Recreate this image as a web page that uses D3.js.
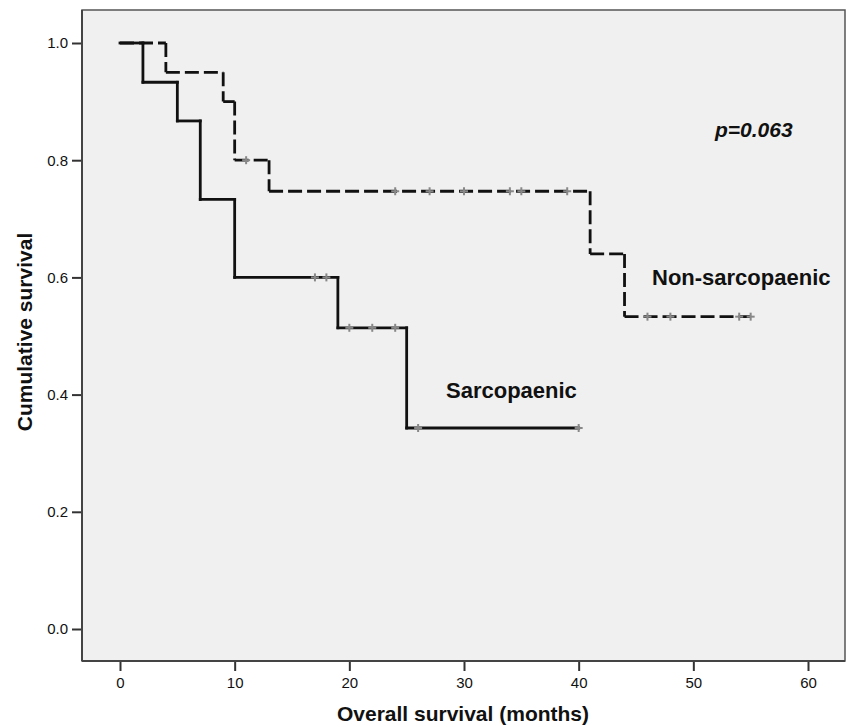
<html>
<head>
<script src="https://d3js.org/d3.v7.min.js"></script>
<style>
  body { margin: 0; background: #fff; }
  text { font-family: "Liberation Sans", Arial, sans-serif; }
</style>
</head>
<body>
<div id="chartContainer"></div>
<script type="text/javascript">
  // step points of each Kaplan-Meier curve (time in months, cumulative survival)
  var sarcTimes = [0, 2, 5, 7, 10, 19, 25];
  var sarcSurv = [1.0, 0.933, 0.867, 0.733, 0.600, 0.514, 0.343];
  var sarcEnd = 40;
  var sarcCensored = [17, 18, 20, 22, 24, 26, 40];

  var nonTimes = [0, 4, 9, 10, 13, 41, 44];
  var nonSurv = [1.0, 0.95, 0.90, 0.80, 0.747, 0.640, 0.533];
  var nonEnd = 55;
  var nonCensored = [11, 24, 27, 30, 34, 35, 39, 46, 48, 54, 55];

  var xTicks = [0, 10, 20, 30, 40, 50, 60];
  var yTicks = [0.0, 0.2, 0.4, 0.6, 0.8, 1.0];

  var W = 847, H = 727;
  var svg = d3.select("#chartContainer").append("svg")
    .attr("width", W).attr("height", H);

  var frame = { left: 82, top: 10, right: 845, bottom: 661 };

  var x = d3.scaleLinear().domain([0, 60]).range([120, 808]);
  var y = d3.scaleLinear().domain([0, 1]).range([629, 43]);

  // plot background + border
  svg.append("rect")
    .attr("x", frame.left).attr("y", frame.top)
    .attr("width", frame.right - frame.left)
    .attr("height", frame.bottom - frame.top)
    .attr("fill", "#f0f0f0")
    .attr("stroke", "#555").attr("stroke-width", 1.5);

  // axes
  var yAxis = d3.axisLeft(y).tickValues(yTicks).tickFormat(d3.format(".1f"))
    .tickSize(10).tickPadding(4);
  var xAxis = d3.axisBottom(x).tickValues(xTicks).tickFormat(d3.format("d"))
    .tickSize(10).tickPadding(6);

  var gy = svg.append("g").attr("transform", "translate(" + frame.left + ",0)").call(yAxis);
  var gx = svg.append("g").attr("transform", "translate(0," + frame.bottom + ")").call(xAxis);
  [gy, gx].forEach(function (g) {
    g.select(".domain").remove();
    g.selectAll(".tick line").attr("stroke", "#333").attr("stroke-width", 2);
    g.selectAll(".tick text").attr("fill", "#111")
      .style("font-size", "15px");
  });
  svg.append("line")
    .attr("x1", frame.left).attr("x2", frame.left)
    .attr("y1", frame.top).attr("y2", frame.bottom)
    .attr("stroke", "#444").attr("stroke-width", 2);
  svg.append("line")
    .attr("x1", frame.left).attr("x2", frame.right)
    .attr("y1", frame.bottom).attr("y2", frame.bottom)
    .attr("stroke", "#444").attr("stroke-width", 2);

  // axis titles
  svg.append("text")
    .attr("x", 463).attr("y", 721)
    .attr("text-anchor", "middle")
    .style("font-size", "21px").style("font-weight", "bold")
    .attr("fill", "#111")
    .text("Overall survival (months)");
  svg.append("text")
    .attr("transform", "translate(32,332) rotate(-90)")
    .attr("text-anchor", "middle")
    .style("font-size", "21px").style("font-weight", "bold")
    .attr("fill", "#111")
    .text("Cumulative survival");

  // build step segments from the step points
  function stepSegments(times, surv, end) {
    var segs = [];
    for (var i = 0; i < times.length; i++) {
      var tNext = i < times.length - 1 ? times[i + 1] : end;
      segs.push([times[i], surv[i], tNext, surv[i]]);
      if (i < times.length - 1) segs.push([tNext, surv[i], tNext, surv[i + 1]]);
    }
    return segs;
  }
  function survAt(times, surv, t) {
    var s = surv[0];
    for (var i = 0; i < times.length; i++) if (times[i] <= t) s = surv[i];
    return s;
  }

  function drawCurve(times, surv, end, censored, dash) {
    var g = svg.append("g");
    g.selectAll("line.seg")
      .data(stepSegments(times, surv, end))
      .enter().append("line")
        .attr("class", "seg")
        .attr("x1", function (d) { return x(d[0]); })
        .attr("y1", function (d) { return y(d[1]); })
        .attr("x2", function (d) { return x(d[2]); })
        .attr("y2", function (d) { return y(d[3]); })
        .attr("stroke", "#111")
        .attr("stroke-width", 2.8)
        .attr("stroke-linecap", dash ? "butt" : "square")
        .attr("stroke-dasharray", dash);
    // censor marks
    var c = g.selectAll("g.cens")
      .data(censored)
      .enter().append("g")
        .attr("transform", function (d) {
          return "translate(" + x(d) + "," + y(survAt(times, surv, d)) + ")";
        });
    c.append("line").attr("x1", -4).attr("x2", 4).attr("y1", 0).attr("y2", 0)
      .attr("stroke", "#888").attr("stroke-width", 2);
    c.append("line").attr("x1", 0).attr("x2", 0).attr("y1", -4).attr("y2", 4)
      .attr("stroke", "#888").attr("stroke-width", 2);
  }

  drawCurve(nonTimes, nonSurv, nonEnd, nonCensored, "14,5");
  drawCurve(sarcTimes, sarcSurv, sarcEnd, sarcCensored, null);

  // labels
  svg.append("text")
    .attr("x", 715).attr("y", 137)
    .style("font-size", "21px").style("font-weight", "bold").style("font-style", "italic")
    .attr("fill", "#111")
    .text("p=0.063");
  svg.append("text")
    .attr("x", 652).attr("y", 285)
    .style("font-size", "22px").style("font-weight", "bold")
    .attr("fill", "#111")
    .text("Non-sarcopaenic");
  svg.append("text")
    .attr("x", 446).attr("y", 398)
    .style("font-size", "22px").style("font-weight", "bold")
    .attr("fill", "#111")
    .text("Sarcopaenic");
</script>
</body>
</html>
